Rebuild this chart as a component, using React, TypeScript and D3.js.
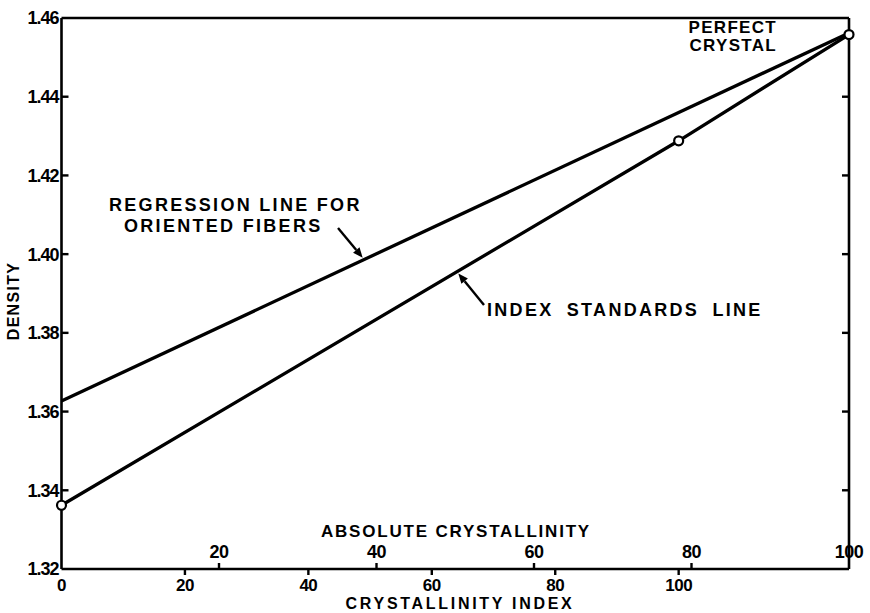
import React from "react";
import * as d3 from "d3";

const densityTicks = [1.32, 1.34, 1.36, 1.38, 1.4, 1.42, 1.44, 1.46];
const indexTicks = [0, 20, 40, 60, 80, 100];
const absoluteTicks = [20, 40, 60, 80, 100];
const indexMax = 127.6;

const regressionIndex = [0, 127.6];
const regressionDensity = [1.3627, 1.4562];
const standardsIndex = [0, 100, 127.6];
const standardsDensity = [1.3362, 1.4288, 1.4558];
const pointIndex = [0, 100, 127.6];
const pointDensity = [1.3362, 1.4288, 1.4558];

const W = 870, H = 613;
const L = 61.5, R = 849, T = 18, B = 569;
const FONT = "'Liberation Sans', Arial, sans-serif";

function Arrow({ x1, y1, x2, y2 }: { x1: number; y1: number; x2: number; y2: number }) {
  const a = Math.atan2(y2 - y1, x2 - x1);
  const len = 10, w = 4.2;
  const bx = x2 - len * Math.cos(a), by = y2 - len * Math.sin(a);
  const p = [
    [x2, y2],
    [bx + w * Math.sin(a), by - w * Math.cos(a)],
    [bx - w * Math.sin(a), by + w * Math.cos(a)],
  ];
  return (
    <g>
      <line x1={x1} y1={y1} x2={bx} y2={by} stroke="#000" strokeWidth={2.4} />
      <polygon points={p.map((q) => q.join(",")).join(" ")} fill="#000" />
    </g>
  );
}

export default function App() {
  const x = d3.scaleLinear().domain([0, indexMax]).range([L, R]);
  const xa = d3.scaleLinear().domain([0, 100]).range([L, R]);
  const y = d3.scaleLinear().domain([1.32, 1.46]).range([B, T]);
  const line = d3.line<[number, number]>().x((d) => x(d[0])).y((d) => y(d[1]));
  const reg = regressionIndex.map((v, i) => [v, regressionDensity[i]] as [number, number]);
  const std = standardsIndex.map((v, i) => [v, standardsDensity[i]] as [number, number]);
  const regAt = d3.scaleLinear().domain(regressionIndex).range(regressionDensity);
  const stdAt = d3.scaleLinear().domain(standardsIndex).range(standardsDensity);

  const regTipX = x(48.8), regTipY = y(regAt(48.8)) - 2.5;
  const stdTipX = x(64.3), stdTipY = y(stdAt(64.3)) + 2.5;

  const txt = { fontFamily: FONT, fontWeight: 700, fill: "#000" } as const;

  return (
    <svg width={W} height={H} style={{ position: "absolute", left: 0, top: 0, background: "#fff" }}>
      <rect width={W} height={H} fill="#fff" />
      {/* frame */}
      <g stroke="#000" strokeWidth={2.6} fill="none">
        <line x1={L} y1={T} x2={R} y2={T} />
        <line x1={L} y1={T} x2={L} y2={B} />
        <line x1={R} y1={T} x2={R} y2={B} />
        <line x1={L} y1={B} x2={R} y2={B} />
      </g>
      {/* y ticks */}
      {densityTicks.map((t) => (
        <g key={t}>
          {t !== 1.32 && t !== 1.46 && (
            <>
              <line x1={L} x2={L + 7} y1={y(t)} y2={y(t)} stroke="#000" strokeWidth={2.4} />
              <line x1={R} x2={R - 7} y1={y(t)} y2={y(t)} stroke="#000" strokeWidth={2.4} />
            </>
          )}
          <text x={L - 3} y={y(t)} dy="0.36em" textAnchor="end" fontSize={18} letterSpacing={-1} style={txt}>
            {t.toFixed(2)}
          </text>
        </g>
      ))}
      {/* index ticks (below) */}
      {indexTicks.map((t) => (
        <g key={"i" + t}>
          {t !== 0 && <line x1={x(t)} x2={x(t)} y1={B} y2={B + 6} stroke="#000" strokeWidth={2.4} />}
          <text x={x(t)} y={B + 16} dy="0.36em" textAnchor="middle" fontSize={17} letterSpacing={-0.5} style={txt}>
            {t}
          </text>
        </g>
      ))}
      {/* absolute ticks (above) */}
      {absoluteTicks.map((t) => (
        <g key={"a" + t}>
          {t !== 100 && <line x1={xa(t)} x2={xa(t)} y1={B} y2={B - 6} stroke="#000" strokeWidth={2.4} />}
          <text x={xa(t)} y={B - 17} dy="0.36em" textAnchor="middle" fontSize={18} letterSpacing={-0.5} style={txt}>
            {t}
          </text>
        </g>
      ))}
      {/* axis titles */}
      <text x={456} y={B - 38} dy="0.36em" textAnchor="middle" fontSize={17} letterSpacing={1.8} style={txt}>
        ABSOLUTE CRYSTALLINITY
      </text>
      <text x={460} y={603.5} dy="0.36em" textAnchor="middle" fontSize={16} letterSpacing={2.7} style={txt}>
        CRYSTALLINITY INDEX
      </text>
      <text transform={`translate(13,${301}) rotate(-90)`} dy="0.36em" textAnchor="middle" fontSize={16} letterSpacing={1.3} style={txt}>
        DENSITY
      </text>
      {/* lines */}
      <path d={line(reg) || ""} fill="none" stroke="#000" strokeWidth={3.3} />
      <path d={line(std) || ""} fill="none" stroke="#000" strokeWidth={3.3} />
      {pointIndex.map((v, i) => (
        <circle key={"p" + i} cx={x(v)} cy={y(pointDensity[i])} r={4.5} fill="#fff" stroke="#000" strokeWidth={2.2} />
      ))}
      {/* annotations */}
      <text x={109} y={205} dy="0.36em" fontSize={18} letterSpacing={2.3} style={txt}>
        REGRESSION LINE FOR
      </text>
      <text x={124} y={226} dy="0.36em" fontSize={18} letterSpacing={2.3} style={txt}>
        ORIENTED FIBERS
      </text>
      <Arrow x1={338} y1={228} x2={regTipX} y2={regTipY} />
      <text x={487} y={310} dy="0.36em" fontSize={18} letterSpacing={2.3} wordSpacing={6} style={txt}>
        INDEX STANDARDS LINE
      </text>
      <Arrow x1={484} y1={305} x2={stdTipX} y2={stdTipY} />
      <text x={777} y={27} dy="0.36em" textAnchor="end" fontSize={17} letterSpacing={1.3} style={txt}>
        PERFECT
      </text>
      <text x={777} y={45} dy="0.36em" textAnchor="end" fontSize={17} letterSpacing={1.3} style={txt}>
        CRYSTAL
      </text>
    </svg>
  );
}
